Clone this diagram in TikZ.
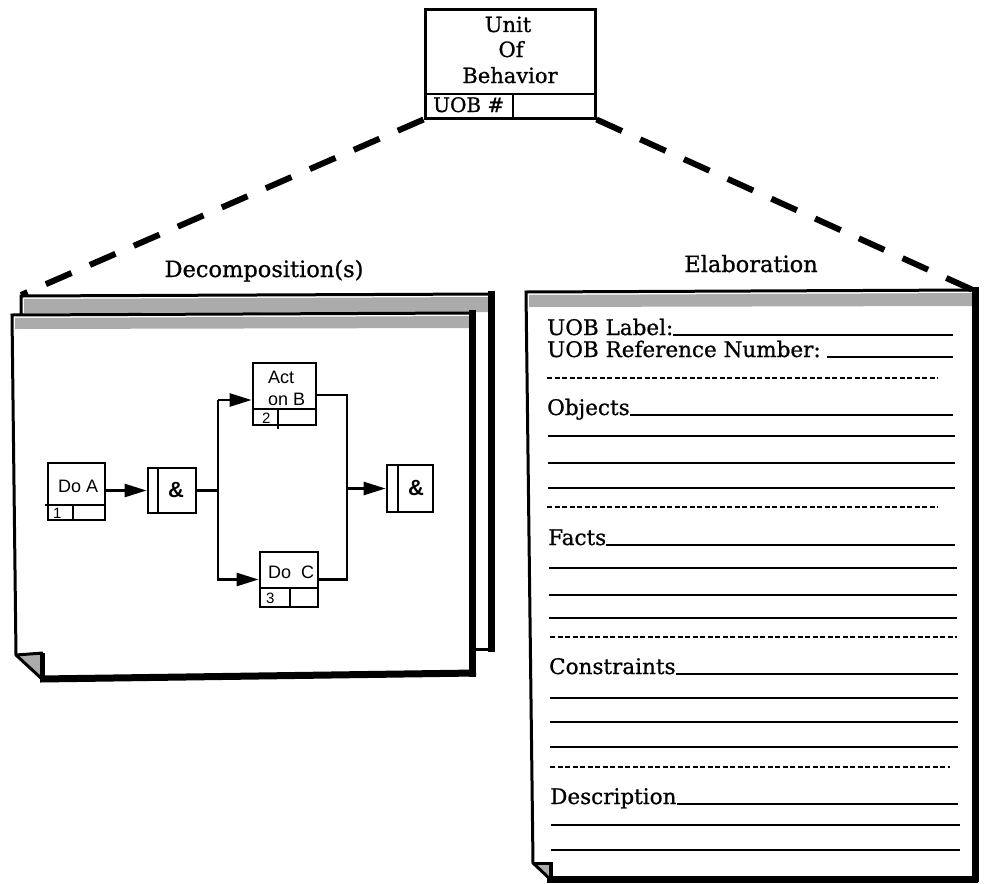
\documentclass[tikz,border=0pt]{standalone}
\usepackage{fontspec}
\setmainfont[FakeBold=0.9]{DejaVu Serif}
\newfontfamily\diagsans{Liberation Sans}
\usetikzlibrary{arrows.meta,patterns}

\begin{document}
\begin{tikzpicture}[x=1pt,y=-1pt,
  pageedge/.style={line width=3pt, line join=miter},
  shadowedge/.style={line width=7pt},
  band/.style={fill=black!33},
  title/.style={font=\fontsize{22.5}{25}\selectfont, inner sep=0pt},
  formtext/.style={font=\fontsize{21.5}{24}\selectfont, inner sep=0pt},
  boxtext/.style={font=\fontsize{21}{24}\selectfont, inner sep=0pt},
  rule/.style={line width=2pt},
  ruledash/.style={line width=2pt, dash pattern=on 5pt off 2.5pt},
  link/.style={line width=6pt, dash pattern=on 28pt off 20pt},
  actbox/.style={draw, line width=2.8pt, inner sep=0pt, fill=white},
  flow/.style={line width=2.6pt},
  arr/.style={flow, -{Triangle[length=22pt,width=13pt]}},
  sanslab/.style={font=\diagsans\fontsize{18}{20}\selectfont, inner sep=0pt},
  numlab/.style={font=\diagsans\fontsize{15}{16}\selectfont, inner sep=0pt},
  andlab/.style={font=\diagsans\bfseries\fontsize{22}{24}\selectfont, inner sep=0pt}
]
\useasboundingbox (0,0) rectangle (984,883);

% ---------------- Unit of Behavior box ----------------
\node[draw, line width=3pt, minimum width=170pt, minimum height=108pt, inner sep=0pt] (uob) at (510,64) {};
\draw[line width=2.5pt] (425,94) -- (595,94);
\draw[line width=2.5pt] (513,94) -- (513,119);
\node[boxtext, anchor=base] (uobA) at (508,32) {Unit};
\node[boxtext, anchor=base] (uobB) at (511,57) {Of};
\node[boxtext, anchor=base] (uobC) at (510,83) {Behavior};
\node[font=\fontsize{20}{22}\selectfont, inner sep=0pt, anchor=base west] (uobNum) at (433,112) {UOB \#};

% page corners reached by the dashed links
\coordinate (decoCorner) at (21,295);
\coordinate (elabCorner) at (975,291);

% ---------------- Decomposition pages ----------------
% back sheet
\fill[white] (21,296) -- (491,294) -- (491,649) -- (21,649) -- cycle;
\fill[band] (24,299) -- (488,297) -- (488,312) -- (24,313) -- cycle;
\draw[pageedge] (21,316) -- (21,296) -- (491,294);
\draw[shadowedge] (491,291) -- (491,652);
\draw[pageedge] (470,649) -- (494,649);

% front sheet
\fill[white] (12,315) -- (472,313) -- (473,674) -- (42,679) -- (16,655) -- cycle;
\fill[band] (15,318) -- (469,316) -- (469,328) -- (15,329) -- cycle;
\fill[band] (18,656) -- (42,654) -- (41,677) -- cycle;
\draw[pageedge] (42,679) -- (16,655) -- (12,315) -- (472,313);
\draw[pageedge] (16,655) -- (43,653);
\draw[line width=5pt] (42,653) -- (42,680);
\draw[shadowedge] (472,310) -- (472,677);
\draw[shadowedge] (40,679) -- (476,673);

\node[title, anchor=base] (decoTitle) at (264,277) {Decomposition(s)};

% ---------------- Activity network ----------------
\node[actbox, minimum width=57pt, minimum height=57pt] (doA) at (76.5,491.5) {};
\draw[line width=2.4pt] (45,505) -- (105,505);
\draw[line width=2.4pt] (73,505) -- (73,520);
\node[sanslab, anchor=base west] (doAtxt) at (58,492) {Do A};
\node[numlab, anchor=base west] (doAnum) at (53,518) {1};

\node[actbox, minimum width=48pt, minimum height=45pt] (and1) at (172,490.5) {};
\draw[line width=2.4pt] (158,468) -- (158,513);
\node[andlab] (and1txt) at (176,490) {\&};

\node[actbox, minimum width=63pt, minimum height=62pt] (actB) at (284.5,394) {};
\draw[line width=2.4pt] (253,409) -- (316,409);
\draw[line width=2.4pt] (278,409) -- (278,429);
\node[sanslab, anchor=base west] (actBtxtA) at (268,383) {Act};
\node[sanslab, anchor=base west] (actBtxtB) at (268,405) {on B};
\node[numlab, anchor=base west] (actBnum) at (262,423) {2};

\node[actbox, minimum width=58pt, minimum height=55pt] (doC) at (289,579.5) {};
\draw[line width=2.4pt] (260,588) -- (318,588);
\draw[line width=2.4pt] (290,588) -- (290,607);
\node[sanslab, anchor=base west] (doCtxt) at (268,578) {Do\ \ C};
\node[numlab, anchor=base west] (doCnum) at (266,603) {3};

\node[actbox, minimum width=46pt, minimum height=47pt] (and2) at (410,488.5) {};
\draw[line width=2.4pt] (398,465) -- (398,512);
\node[andlab] (and2txt) at (416,488) {\&};

% connectors
\coordinate (fork) at (218,490.5);
\coordinate (forkTop) at (218,400);
\coordinate (join) at (347,488.5);
\draw[arr] (doA.east |- and1.west) -- (and1.west);
\draw[flow] (and1.east) -- (fork);
\draw[flow] (fork) -- (forkTop);
\draw[arr] (forkTop) -- (forkTop -| actB.west);
\draw[arr] (fork) |- (doC.west);
\draw[flow] ([yshift=-1pt]actB.east) -| (join);
\draw[flow] (doC.east) -| (join);
\draw[arr] (join) -- (and2.west);

% ---------------- Elaboration page ----------------
\fill[white] (526,292) -- (974,290) -- (975,878) -- (550,879) -- (533,863) -- cycle;
\fill[band] (529,295) -- (972,293) -- (972,306) -- (529,307) -- cycle;
\fill[band] (535,864) -- (551,864) -- (550,877) -- cycle;
\draw[pageedge] (550,879) -- (533,863) -- (526,292) -- (974,290);
\draw[pageedge] (533,863) -- (552,863);
\draw[line width=3.5pt] (551,862) -- (551,880);
\draw[shadowedge] (975,287) -- (975,882);
\draw[shadowedge] (547,879) -- (978,879);

\node[title, anchor=base] (elabTitle) at (751,272) {Elaboration};

% form fields
\node[formtext, anchor=base west] (fLabel) at (547,335) {UOB Label:};
\draw[rule] (fLabel.base east) -- (953,335);
\node[formtext, anchor=base west] (fRef) at (547,357) {UOB Reference Number:};
\draw[rule] ([xshift=6pt]fRef.base east) -- (953,357);
\draw[ruledash] (547,378) -- (938,378);

\node[formtext, anchor=base west] (fObj) at (547,415) {Objects};
\draw[rule] (fObj.base east) -- (953,415);
\foreach \yy in {436,463,488} \draw[rule] (548,\yy) -- (955,\yy);
\draw[ruledash] (547,507) -- (938,507);

\node[formtext, anchor=base west] (fFacts) at (548,545) {Facts};
\draw[rule] (fFacts.base east) -- (955,545);
\foreach \yy in {568,595,618} \draw[rule] (549,\yy) -- (957,\yy);
\draw[ruledash] (550,637) -- (957,637);

\node[formtext, anchor=base west] (fCons) at (549,674) {Constraints};
\draw[rule] (fCons.base east) -- (958,674);
\foreach \yy in {698,722,747} \draw[rule] (550,\yy) -- (958,\yy);
\draw[ruledash] (550,767) -- (950,767);

\node[formtext, anchor=base west] (fDesc) at (550,804) {Description};
\draw[rule] (fDesc.base east) -- (958,804);
\foreach \yy in {825,850} \draw[rule] (551,\yy) -- (960,\yy);

% ---------------- dashed links ----------------
\draw[link] (uob.south west) -- (decoCorner);
\draw[link] (uob.south east) -- (elabCorner);

\end{tikzpicture}
\end{document}
